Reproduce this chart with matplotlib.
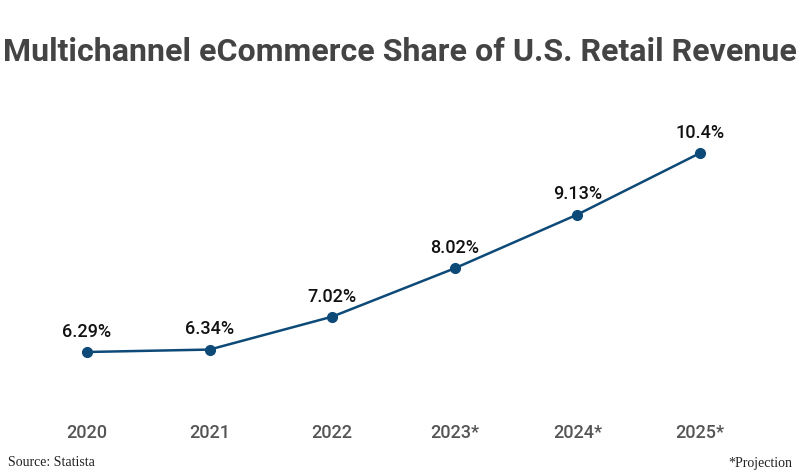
import matplotlib
matplotlib.use("Agg")
import matplotlib.pyplot as plt

years = ["2020", "2021", "2022", "2023*", "2024*", "2025*"]
share = [6.29, 6.34, 7.02, 8.02, 9.13, 10.4]
labels = ["6.29%", "6.34%", "7.02%", "8.02%", "9.13%", "10.4%"]

fig = plt.figure(figsize=(8, 4.75), dpi=100)
ax = fig.add_axes([0, 75/475, 1, 300/475])
ax.set_facecolor("none")

xs = list(range(len(years)))
ax.plot(xs, share, color="#0d4a78", lw=1.8, marker="o", ms=7, zorder=3)
for x, v, t in zip(xs, share, labels):
    ax.annotate(t, (x, v), xytext=(0, 8), textcoords="offset points",
                ha="center", va="bottom", fontsize=13, family="Roboto",
                fontweight="medium", color="#111111")

ax.set_xlim(-0.7096, 5.8157)
ax.set_ylim(5.298, 11.497)
ax.set_xticks(xs)
ax.set_xticklabels(years, family="Roboto", fontweight="medium", fontsize=13, color="#555555")
ax.tick_params(axis="x", length=0, pad=17)
ax.set_yticks([])
for s in ax.spines.values():
    s.set_visible(False)

fig.text(0.5, 1 - 52/475, "Multichannel eCommerce Share of U.S. Retail Revenue",
         ha="center", va="center", family="Roboto", fontweight="bold",
         fontsize=23.1, color="#444444")
fig.text(8/800, 1 - 463/475, "Source: Statista", ha="left", va="center",
         family="Liberation Serif", fontsize=10, color="#222222")
fig.text(792/800, 1 - 463/475, "*Projection", ha="right", va="center",
         family="Liberation Serif", fontsize=10, color="#222222")

fig.savefig("out.png", dpi=100)
